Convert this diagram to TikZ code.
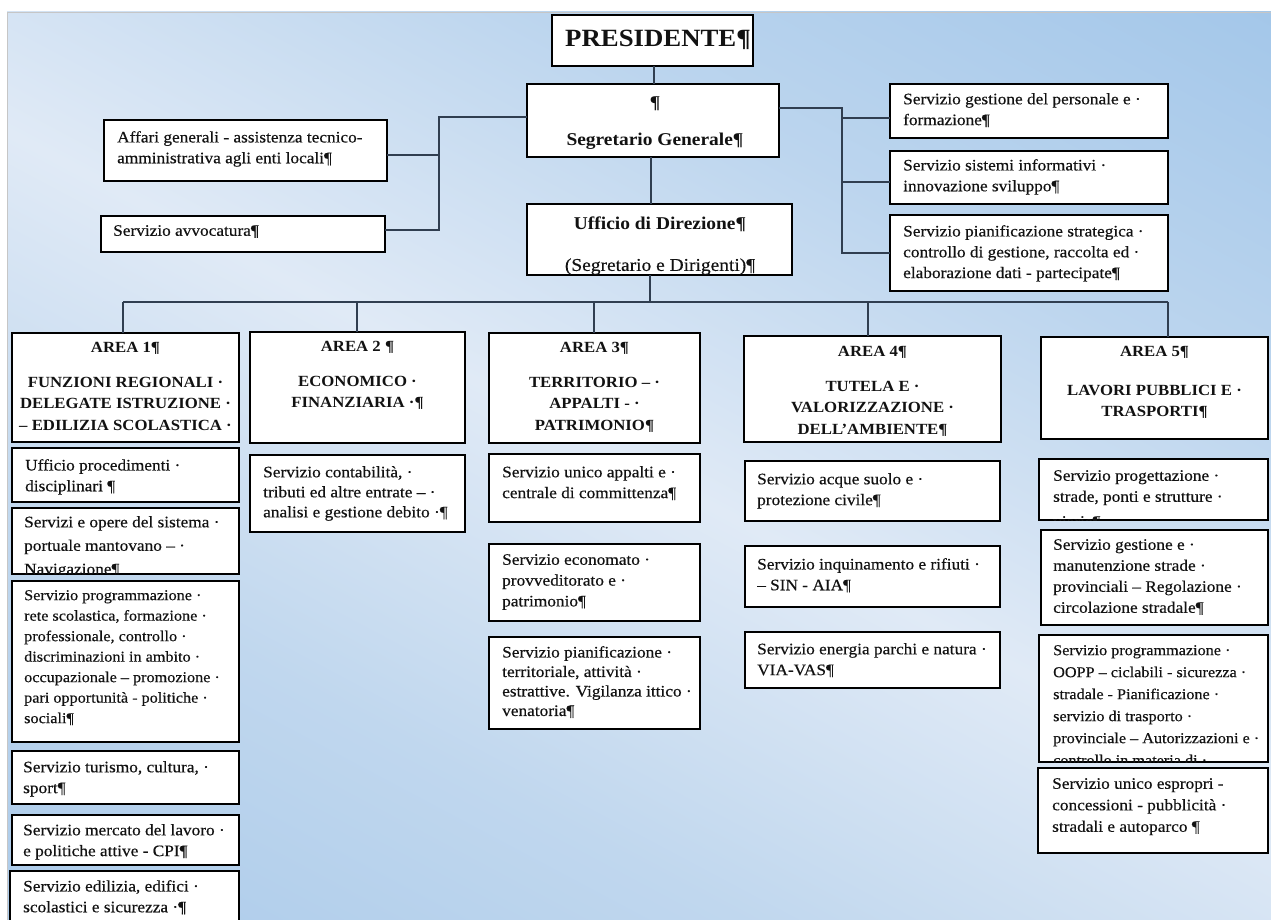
\documentclass[tikz,border=0pt]{standalone}
\usepackage{fontspec}
\setmainfont{Liberation Serif}[FakeStretch=1.08, UprightFeatures={FakeBold=0.4}]
\definecolor{lineclr}{RGB}{48,62,80}
\definecolor{bgTop}{RGB}{150,191,230}
\definecolor{bgTopM}{RGB}{162,198,233}
\definecolor{bgTopL}{RGB}{188,213,238}
\definecolor{bgMid}{RGB}{224,234,246}
\definecolor{bgBotL}{RGB}{192,215,238}
\definecolor{bgBotM}{RGB}{170,202,234}
\definecolor{bgBot}{RGB}{163,199,234}
\definecolor{txtclr}{RGB}{18,18,18}
\pgfdeclareverticalshading{bgsh}{100bp}{color(0bp)=(bgBot); color(15bp)=(bgBotM); color(33bp)=(bgBotL); color(50bp)=(bgMid); color(67bp)=(bgTopL); color(85bp)=(bgTopM); color(100bp)=(bgTop)}
\newcommand\fBody{\fontsize{16}{20.8}\selectfont}
\newcommand\fArea{\bfseries\fontsize{15.5}{21.5}\selectfont}
\newcommand\mkbox[5]{\node[bx, minimum width={#4-#2}, minimum height={#5-#3}] (#1) at ({(#2+#4)/2},{(#3+#5)/2}) {};}
\tikzset{
  bx/.style={draw=black, line width=1.5pt, fill=white, inner sep=0pt, outer sep=0pt},
  conn/.style={draw=lineclr, line width=1.8pt},
  tl/.style={anchor=north west, align=left, inner sep=0pt, font=\fBody, text=txtclr},
  tc/.style={anchor=north, align=center, inner sep=0pt, font=\fArea, text=txtclr},
}
\begin{document}
\begin{tikzpicture}[x=1pt,y=-1pt]
\useasboundingbox (0,0) rectangle (1271,920);
\clip (0,0) rectangle (1271,920);
\fill[white] (0,0) rectangle (1271,920);
\shade[shading=bgsh, shading angle=-28] (7,12) rectangle (1275,925);
\draw[gray!45, line width=0.8pt] (7,925) -- (7,12) -- (1275,12);

% ---------- boxes ----------
\mkbox{pres}{552}{15}{753}{66}
\mkbox{seg}{527}{84}{779}{157}
\mkbox{ufd}{527}{204}{792}{275}
\mkbox{aff}{104}{120}{387}{181}
\mkbox{avv}{101}{216}{385}{252}
\mkbox{sgp}{890}{84}{1168}{138}
\mkbox{ssi}{890}{151}{1168}{204}
\mkbox{spi}{890}{215}{1168}{291}

\mkbox{a1}{12}{333}{239}{442}
\mkbox{a2}{250}{332}{465}{443}
\mkbox{a3}{489}{333}{700}{443}
\mkbox{a4}{744}{336}{1001}{442}
\mkbox{a5}{1041}{337}{1268}{439}

\mkbox{a1s1}{12}{448}{239}{502}
\mkbox{a1s2}{12}{508}{239}{574}
\mkbox{a1s3}{12}{581}{239}{742}
\mkbox{a1s4}{12}{751}{239}{804}
\mkbox{a1s5}{12}{815}{239}{865}
\mkbox{a1s6}{10}{871}{239}{935}

\mkbox{a2s1}{250}{455}{465}{532}

\mkbox{a3s1}{489}{454}{700}{522}
\mkbox{a3s2}{489}{544}{700}{621}
\mkbox{a3s3}{489}{637}{700}{729}

\mkbox{a4s1}{745}{461}{1000}{521}
\mkbox{a4s2}{745}{546}{1000}{607}
\mkbox{a4s3}{745}{632}{1000}{688}

\mkbox{a5s1}{1039}{459}{1268}{520}
\mkbox{a5s2}{1041}{530}{1268}{625}
\mkbox{a5s3}{1039}{635}{1268}{762}
\mkbox{a5s4}{1038}{768}{1268}{853}

% ---------- connectors ----------
\coordinate (cx) at (654,0);
\draw[conn] (pres.south -| cx) -- (seg.north -| cx);
\coordinate (cx2) at (651,0);
\draw[conn] (seg.south -| cx2) -- (ufd.north -| cx2);
\coordinate (busmid) at (650,302);
\draw[conn] (ufd.south -| busmid) -- (busmid);
\coordinate (d1) at (123,302);
\coordinate (d2) at (357,302);
\coordinate (d3) at (594,302);
\coordinate (d4) at (868,302);
\coordinate (d5) at (1168,302);
\draw[conn] (d1) -- (d5);
\draw[conn] (d1) -- (d1 |- a1.north);
\draw[conn] (d2) -- (d2 |- a2.north);
\draw[conn] (d3) -- (d3 |- a3.north);
\draw[conn] (d4) -- (d4 |- a4.north);
\draw[conn] (d5) -- (d5 |- a5.north);

\coordinate (lbt) at (439,117);
\coordinate (lbb) at (439,230);
\coordinate (lba) at (439,155);
\draw[conn] (lbt -| seg.west) -- (lbt) -- (lbb) -- (lbb -| avv.east);
\draw[conn] (lba -| aff.east) -- (lba);

\coordinate (rbt) at (842,108);
\coordinate (rbb) at (842,253);
\coordinate (rb1) at (842,118);
\coordinate (rb2) at (842,182);
\draw[conn] (rbt -| seg.east) -- (rbt) -- (rbb) -- (rbb -| spi.west);
\draw[conn] (rb1) -- (rb1 -| sgp.west);
\draw[conn] (rb2) -- (rb2 -| ssi.west);

% ---------- texts ----------
\node[anchor=center, inner sep=0pt, font=\bfseries\fontsize{24.8}{28}\selectfont, text=txtclr] (prest) at (658,40) {PRESIDENTE¶};
\node[tc, font=\bfseries\fontsize{18}{20}\selectfont] (segt) at (655,97) {¶\\[17pt]Segretario Generale¶};
\node[tc, font=\fontsize{18}{20}\selectfont] (ufdt) at (660,217) {\textbf{Ufficio di Direzione¶}\\[21pt](Segretario e Dirigenti)¶};

\node[tl] (afft) at (117,131) {Affari generali - assistenza tecnico-\\amministrativa agli enti locali¶};
\node[tl] (avvt) at (113,225) {Servizio avvocatura¶};
\node[tl] (sgpt) at (903,93) {Servizio gestione del personale e ·\\formazione¶};
\node[tl] (ssit) at (903,159) {Servizio sistemi informativi ·\\innovazione sviluppo¶};
\node[tl] (spit) at (903,225) {Servizio pianificazione strategica ·\\controllo di gestione, raccolta ed ·\\elaborazione dati - partecipate¶};

\node[tc] (a1t) at (125.5,342) {AREA 1¶\\[13.5pt]FUNZIONI REGIONALI ·\\DELEGATE ISTRUZIONE ·\\– EDILIZIA SCOLASTICA ·};
\node[tc] (a2t) at (357.5,341) {AREA 2 ¶\\[13.5pt]ECONOMICO ·\\FINANZIARIA ·¶};
\node[tc] (a3t) at (594.5,342) {AREA 3¶\\[13.5pt]TERRITORIO – ·\\APPALTI - ·\\PATRIMONIO¶};
\node[tc] (a4t) at (872.5,346) {AREA 4¶\\[13.5pt]TUTELA E ·\\VALORIZZAZIONE ·\\DELL’AMBIENTE¶};
\node[tc] (a5t) at (1154.5,346) {AREA 5¶\\[17.5pt]LAVORI PUBBLICI E ·\\TRASPORTI¶};

\node[tl] (a1s1t) at (25,459) {Ufficio procedimenti ·\\disciplinari ¶};
\begin{scope}
\clip ([shift={(0.8pt,-0.8pt)}]a1s2.south west) rectangle (a1s2.north east);
\node[tl, font=\fontsize{16}{23.5}\selectfont] (a1s2t) at (24,516) {Servizi e opere del sistema ·\\portuale mantovano – ·\\Navigazione¶};
\end{scope}
\node[tl, font=\fontsize{15}{20.5}\selectfont] (a1s3t) at (24,590) {Servizio programmazione ·\\rete scolastica, formazione ·\\professionale, controllo ·\\discriminazioni in ambito ·\\occupazionale – promozione ·\\pari opportunità - politiche ·\\sociali¶};
\node[tl] (a1s4t) at (23,761) {Servizio turismo, cultura, ·\\sport¶};
\node[tl] (a1s5t) at (23,824) {Servizio mercato del lavoro ·\\e politiche attive - CPI¶};
\node[tl] (a1s6t) at (23,880) {Servizio edilizia, edifici ·\\scolastici e sicurezza ·¶};

\node[tl, font=\fontsize{16}{20}\selectfont] (a2s1t) at (263,466) {Servizio contabilità, ·\\tributi ed altre entrate – ·\\analisi e gestione debito ·¶};

\node[tl] (a3s1t) at (502,466) {Servizio unico appalti e ·\\centrale di committenza¶};
\node[tl] (a3s2t) at (502,554) {Servizio economato ·\\provveditorato e ·\\patrimonio¶};
\node[tl, font=\fontsize{16}{19.5}\selectfont] (a3s3t) at (502,646) {Servizio pianificazione ·\\territoriale, attività ·\\estrattive. Vigilanza ittico ·\\venatoria¶};

\node[tl] (a4s1t) at (757,473) {Servizio acque suolo e ·\\protezione civile¶};
\node[tl] (a4s2t) at (757,558) {Servizio inquinamento e rifiuti ·\\– SIN - AIA¶};
\node[tl] (a4s3t) at (757,643) {Servizio energia parchi e natura ·\\VIA-VAS¶};

\begin{scope}
\clip ([shift={(0.8pt,-0.8pt)}]a5s1.south west) rectangle (a5s1.north east);
\node[tl, font=\fontsize{16}{21}\selectfont] (a5s1t) at (1053,470) {Servizio progettazione ·\\strade, ponti e strutture ·\\[4pt]viarie¶};
\end{scope}
\node[tl, font=\fontsize{16}{21}\selectfont] (a5s2t) at (1053,539) {Servizio gestione e ·\\manutenzione strade ·\\provinciali – Regolazione ·\\circolazione stradale¶};
\begin{scope}
\clip ([shift={(0.8pt,-0.8pt)}]a5s3.south west) rectangle (a5s3.north east);
\node[tl, font=\fontsize{15}{22}\selectfont] (a5s3t) at (1053,645) {Servizio programmazione ·\\OOPP – ciclabili - sicurezza ·\\stradale - Pianificazione ·\\servizio di trasporto ·\\provinciale – Autorizzazioni e ·\\controllo in materia di ·};
\end{scope}
\node[tl, font=\fontsize{16}{21.5}\selectfont] (a5s4t) at (1052,778) {Servizio unico espropri -\\concessioni - pubblicità ·\\stradali e autoparco ¶};
\end{tikzpicture}
\end{document}
